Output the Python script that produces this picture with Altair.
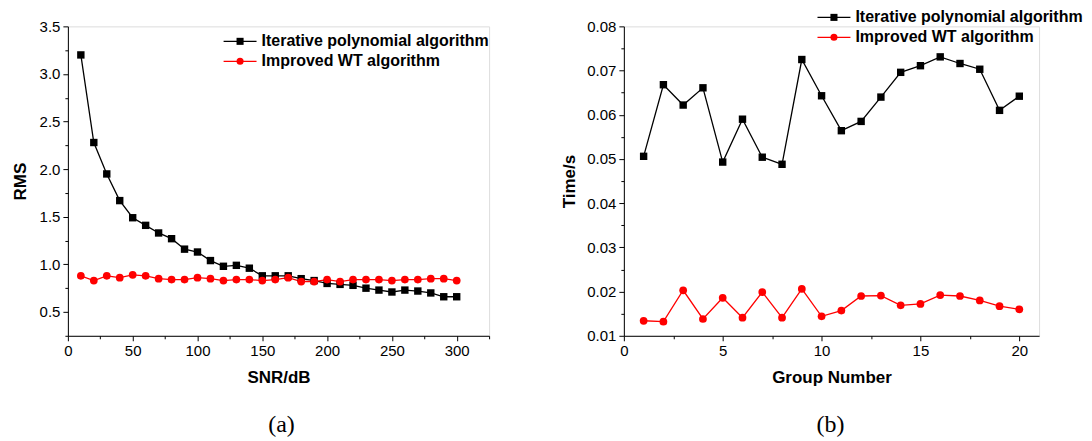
import altair as alt
import pandas as pd

# ---------- data ----------
snr = [10, 20, 30, 40, 50, 60, 70, 80, 90, 100, 110, 120, 130, 140, 150,
       160, 170, 180, 190, 200, 210, 220, 230, 240, 250, 260, 270, 280, 290, 300]
rms_iter = [3.20, 2.28, 1.95, 1.67, 1.49, 1.41, 1.33, 1.27, 1.16, 1.13, 1.04, 0.98, 0.99, 0.96, 0.88,
            0.88, 0.88, 0.85, 0.83, 0.80, 0.79, 0.78, 0.75, 0.73, 0.71, 0.73, 0.72, 0.70, 0.66, 0.66]
rms_wt = [0.88, 0.83, 0.88, 0.86, 0.89, 0.88, 0.85, 0.84, 0.84, 0.86, 0.85, 0.83, 0.84, 0.84, 0.83,
          0.84, 0.86, 0.82, 0.82, 0.84, 0.82, 0.84, 0.84, 0.84, 0.83, 0.84, 0.84, 0.85, 0.85, 0.83]

group = list(range(1, 21))
time_iter = [0.0506, 0.0668, 0.0622, 0.0661, 0.0493, 0.0590, 0.0504, 0.0488, 0.0725, 0.0643,
             0.0564, 0.0585, 0.0640, 0.0696, 0.0711, 0.0731, 0.0716, 0.0703, 0.0610, 0.0642]
time_wt = [0.0134, 0.0132, 0.0203, 0.0138, 0.0186, 0.0141, 0.0199, 0.0141, 0.0206, 0.0144,
           0.0157, 0.0190, 0.0191, 0.0169, 0.0172, 0.0192, 0.0190, 0.0180, 0.0167, 0.0160]

series_names = ["Iterative polynomial algorithm", "Improved WT algorithm"]
captions = ["(a)", "(b)"]

rms_ticks_y = [0.25 * i for i in range(1, 15)]
rms_ticks_x = [25 * i for i in range(0, 14)]
time_ticks_y = [round(0.01 + 0.005 * i, 3) for i in range(0, 15)]
time_ticks_x = [2.5 * i for i in range(0, 9)]

BLACK = "#000000"
RED = "#ff0000"
FONT = "Liberation Sans"


def axis(title, values, major_test, label_fmt, title_pad):
    return alt.Axis(
        title=title,
        values=values,
        labelExpr=f"({major_test}) ? format(datum.value, '{label_fmt}') : ''",
        tickSize={"condition": {"test": major_test, "value": 5}, "value": 3},
        grid=False,
        domainColor="black",
        tickColor="black",
        labelColor="black",
        titleColor="black",
        labelFont=FONT,
        labelFontSize=15,
        titleFont=FONT,
        titleFontSize=17,
        titleFontWeight="bold",
        labelPadding=3,
        titlePadding=title_pad,
        labelOverlap=False,
        labelFlush=False,
    )


def panel(xs, y1, y2, xdom, ydom, xaxis, yaxis,
          leg_x, leg_y, cap_x, cap_y, caption, w, h):
    d1 = pd.DataFrame({"x": xs, "y": y1})
    d2 = pd.DataFrame({"x": xs, "y": y2})
    X = alt.X("x:Q", scale=alt.Scale(domain=xdom, nice=False, zero=False), axis=xaxis)
    Y = alt.Y("y:Q", scale=alt.Scale(domain=ydom, nice=False, zero=False), axis=yaxis)

    l1 = alt.Chart(d1).mark_line(color=BLACK, strokeWidth=1.3).encode(x=X, y=Y)
    p1 = alt.Chart(d1).mark_point(shape="square", filled=True, size=55, color=BLACK, opacity=1).encode(x=X, y=Y)
    l2 = alt.Chart(d2).mark_line(color=RED, strokeWidth=1.3).encode(x=X, y=Y)
    p2 = alt.Chart(d2).mark_point(shape="circle", filled=True, size=60, color=RED, opacity=1).encode(x=X, y=Y)

    leg = []
    base = alt.Chart(pd.DataFrame({"n": [0]}))
    for i, (name, col, shp) in enumerate(zip(series_names, [BLACK, RED], ["square", "circle"])):
        yy = leg_y + 20 * i
        leg.append(base.mark_rule(color=col, strokeWidth=1.3).encode(
            x=alt.value(leg_x), x2=alt.value(leg_x + 33), y=alt.value(yy)))
        leg.append(base.mark_point(shape=shp, filled=True, size=50, color=col, opacity=1).encode(
            x=alt.value(leg_x + 16.5), y=alt.value(yy)))
        leg.append(base.mark_text(align="left", baseline="middle", font=FONT, fontSize=16,
                                  fontWeight="bold", color="black").encode(
            x=alt.value(leg_x + 38), y=alt.value(yy), text=alt.value(name)))
    cap = base.mark_text(align="center", baseline="middle", font="Liberation Serif",
                         fontSize=24, color="black").encode(
        x=alt.value(cap_x), y=alt.value(cap_y), text=alt.value(caption))

    return alt.layer(l1, l2, p1, p2, *leg, cap).properties(width=w, height=h)


left = panel(
    snr, rms_iter, rms_wt, [0, 325], [0.25, 3.5],
    axis("SNR/dB", rms_ticks_x, "datum.value % 50 == 0", "d", 11),
    axis("RMS", rms_ticks_y, "datum.value % 0.5 == 0", ".1f", 10),
    156, 15, 214, 399, captions[0], 422, 310,
)

right = panel(
    group, time_iter, time_wt, [0, 21], [0.01, 0.08],
    axis("Group Number", time_ticks_x, "datum.value % 5 == 0", "d", 11),
    axis("Time/s", time_ticks_y,
         "abs(datum.value * 100 - round(datum.value * 100)) < 1e-6", ".2f", 8),
    194, -9, 207, 399, captions[1], 416, 310,
)

chart = alt.hconcat(left, right, spacing=135, bounds="flush").properties(
    padding={"left": 2, "top": 0, "right": 0, "bottom": 0}
).configure_view(stroke=None).configure(background="white")

chart.save("out.html", embed_options={"renderer": "svg", "actions": False})
